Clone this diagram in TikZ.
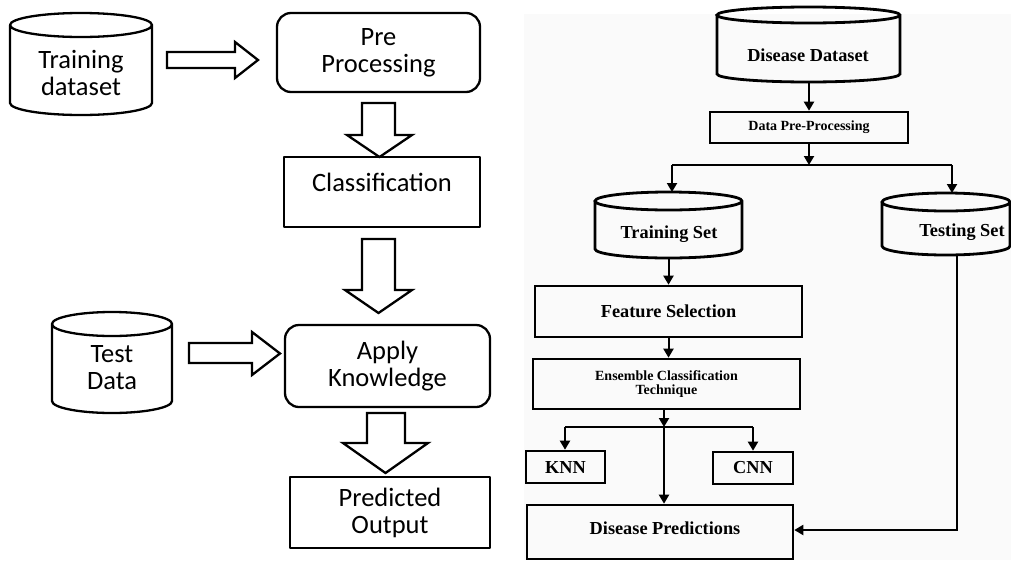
\documentclass[tikz,border=0pt]{standalone}
\usepackage{fontspec}
\setmainfont{Liberation Serif}
\newfontfamily\calib{Carlito}
\usetikzlibrary{arrows.meta}
\newcommand{\mycyl}[7]{% style, name, x1, y1, x2, y2, ry
  \pgfmathsetmacro{\cylrx}{(#5-#3)/2}
  \draw[#1] (#3,{#4+#7}) -- (#3,{#6-#7})
    arc[start angle=180,end angle=360,x radius=\cylrx pt,y radius=#7pt]
    -- (#5,{#4+#7})
    arc[start angle=0,end angle=180,x radius=\cylrx pt,y radius=#7pt]
    arc[start angle=180,end angle=360,x radius=\cylrx pt,y radius=#7pt];
  \node[inner sep=0pt, outer sep=0pt, minimum width={(#5-#3)*1pt}, minimum height={(#6-#4)*1pt}] (#2) at ({(#3+#5)/2},{(#4+#6)/2}) {};
}
\begin{document}
\begin{tikzpicture}[x=1pt,y=-1pt,
  lline/.style={line width=2.3pt, line join=round},
  lbox/.style={draw, lline, inner sep=0pt},
  lround/.style={lbox, rounded corners=14pt},
  ltext/.style={font=\calib\fontsize{26.5}{27}\selectfont, align=center, inner sep=0pt},
  barrow/.style={lline, line join=miter},
  rcyl/.style={line width=2.8pt},
  rbox/.style={draw, line width=2.6pt, inner sep=0pt},
  rtext/.style={font=\bfseries\fontsize{18.3}{20}\selectfont, inner sep=0pt, align=center},
  rsmall/.style={font=\bfseries\fontsize{14}{14}\selectfont, inner sep=0pt, align=center},
  conn/.style={line width=2pt},
  arr/.style={conn, -{Triangle[length=9pt,width=10pt]}},
]
\useasboundingbox (0,0) rectangle (1011,560);

% ---------- left diagram ----------
\mycyl{lline}{trd}{10}{13}{152}{115}{12}
\node[ltext] (trdT) at (81,73) {Training\\dataset};
\node[lround, ltext, minimum width=203pt, minimum height=79pt] (pre) at (378.5,52.5) {Pre\\Processing};
\node[lbox, minimum width=196pt, minimum height=70pt] (cls) at (382,192) {};
\node[ltext] (clsT) at (382,182) {Classification};
\node[lround, ltext, minimum width=205pt, minimum height=82pt] (app) at (387.5,366) {Apply\\Knowledge};
\mycyl{lline}{tst}{52}{312}{172}{413}{12}
\node[ltext] (tstT) at (112,368) {Test\\Data};
\node[lbox, ltext, minimum width=200pt, minimum height=71pt] (pred) at (390,512.5) {Predicted\\Output};

\draw[barrow] (167,52) -- (235,52) -- (235,42) -- (258,60) -- (235,78) -- (235,68) -- (167,68) -- cycle;
\draw[barrow] (362,103) -- (395,103) -- (395,135) -- (412,135) -- (379.5,157) -- (347,135) -- (362,135) -- cycle;
\draw[barrow] (362,239) -- (395,239) -- (395,290) -- (412,290) -- (378.5,313) -- (345,290) -- (362,290) -- cycle;
\draw[barrow] (189,343) -- (252,343) -- (252,332) -- (280,353.5) -- (252,375) -- (252,363) -- (189,363) -- cycle;
\draw[barrow] (367,413) -- (405,413) -- (405,443) -- (428,443) -- (385.5,473) -- (343,443) -- (367,443) -- cycle;

% ---------- right diagram ----------
\fill[black!2] (524,14) rectangle (1011,560);
\mycyl{rcyl}{dd}{717}{7}{900}{82}{8}
\node[rtext] (ddT) at (808,55) {Disease Dataset};
\node[rbox, rsmall, minimum width=198pt, minimum height=31pt] (dpp) at (809,127.5) {Data Pre-Processing};
\draw[arr] (dd.south -| dpp.north) -- (dpp.north);

\coordinate (split) at (809,165);
\coordinate (sL) at (672,165);
\coordinate (sR) at (952,165);
\draw[arr] (dpp.south) -- (split);
\draw[conn] (sL) -- (sR);

\mycyl{rcyl}{trs}{595}{192}{742}{258}{9}
\node[rtext] (trsT) at (669,234) {Training Set};
\mycyl{rcyl}{tes}{882}{193}{1010}{255}{9}
\node[rtext] (tesT) at (962,232) {Testing Set};
\draw[arr] (sL) -- (sL |- trs.north);
\draw[arr] (sR) -- (sR |- tes.north);

\node[rbox, rtext, minimum width=267pt, minimum height=51pt] (fs) at (668.5,311.5) {Feature Selection};
\draw[arr] (trs.south) -- (trs.south |- fs.north);
\node[rbox, rsmall, minimum width=267pt, minimum height=50pt] (ens) at (666.5,384) {Ensemble Classification\\Technique};
\draw[arr] (fs.south) -- (fs.south |- ens.north);

\coordinate (j) at (664,427);
\coordinate (jL) at (565,427);
\coordinate (jR) at (753,427);
\draw[arr] (ens.south -| j) -- (j);
\draw[conn] (jL) -- (jR);

\node[rbox, rtext, minimum width=79pt, minimum height=32pt] (knn) at (565.5,467) {KNN};
\node[rbox, rtext, minimum width=80pt, minimum height=32pt] (cnn) at (753,468) {CNN};
\draw[arr] (jL) -- (jL |- knn.north);
\draw[arr] (jR) -- (jR |- cnn.north);

\node[rbox, minimum width=266pt, minimum height=54pt] (dp) at (660,532) {};
\node[rtext] (dpT) at (665,528) {Disease Predictions};
\draw[arr] (j) -- (j |- dp.north);

\coordinate (tc) at (957,530);
\draw[arr] (tes.south -| tc) -- (tc) -- (tc -| dp.east);
\end{tikzpicture}
\end{document}
